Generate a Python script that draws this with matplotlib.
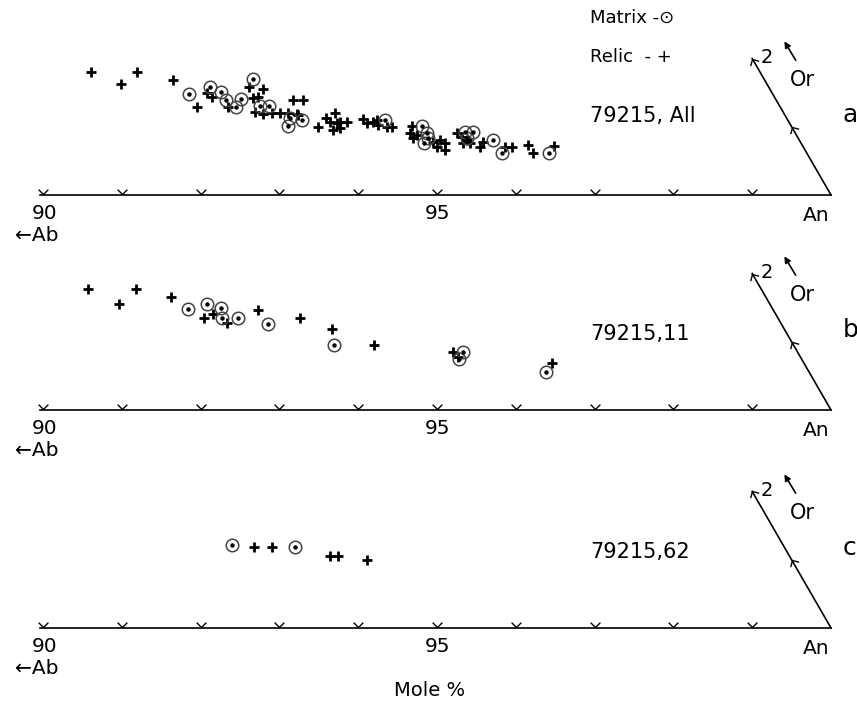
import numpy as np
import matplotlib
matplotlib.use("Agg")
import matplotlib.pyplot as plt
from matplotlib.path import Path
from matplotlib.markers import MarkerStyle
from matplotlib.transforms import Affine2D

# An and Or contents (mole %), Ab = 100 - An - Or
# panel a : 79215, All
a_relic_an = [89.71, 90.18, 90.29, 90.81, 91.33, 91.43, 91.31, 91.70, 91.82, 92.02,
              91.95, 92.01, 92.08, 92.20, 92.31, 92.41, 92.51, 92.63, 92.48, 92.61,
              92.65, 92.99, 93.02, 93.11, 93.11, 93.21, 93.23, 93.32, 93.21, 93.28,
              93.50, 93.59, 93.65, 93.74, 93.87, 93.94, 93.69, 94.18, 94.20, 94.31,
              94.28, 94.56, 94.64, 94.72, 94.77, 94.65, 94.80, 94.89, 94.98, 94.95,
              95.04, 95.20, 95.20, 95.51, 95.60, 95.79, 95.91, 96.12]
a_relic_or = [1.80, 1.62, 1.80, 1.68, 1.49, 1.43, 1.29, 1.29, 1.58, 1.55,
              1.42, 1.43, 1.21, 1.18, 1.20, 1.20, 1.20, 1.18, 1.39, 1.39,
              1.17, 0.99, 1.13, 1.20, 1.07, 1.05, 1.07, 1.07, 0.95, 0.98,
              1.11, 1.05, 1.07, 1.02, 0.99, 0.99, 1.10, 1.01, 0.91, 0.88,
              0.83, 0.77, 0.80, 0.76, 0.66, 0.70, 0.91, 0.85, 0.80, 0.76,
              0.76, 0.77, 0.70, 0.70, 0.70, 0.73, 0.61, 0.72]
a_matrix_an = [91.11, 91.33, 91.51, 91.63, 91.81, 91.81, 91.81, 92.10, 92.22, 92.57,
               92.60, 92.74, 93.79, 94.31, 94.42, 94.47, 94.45, 94.90, 95.00, 94.97,
               95.31, 95.52, 96.12]
a_matrix_or = [1.48, 1.58, 1.51, 1.39, 1.29, 1.40, 1.70, 1.30, 1.30, 1.13,
               1.01, 1.10, 1.10, 1.01, 0.91, 0.83, 0.76, 0.92, 0.92, 0.83,
               0.80, 0.61, 0.61]

# panel b : 79215,11
b_relic_an = [89.69, 90.18, 90.30, 90.80, 91.46, 91.37, 91.70, 92.00, 92.59, 93.08,
              93.72, 94.78, 94.88, 96.11]
b_relic_or = [1.77, 1.56, 1.77, 1.65, 1.40, 1.35, 1.27, 1.46, 1.35, 1.18,
              0.95, 0.85, 0.77, 0.69]
b_matrix_an = [91.10, 91.30, 91.52, 91.60, 91.80, 92.23, 93.22, 94.90, 94.90, 96.10]
b_matrix_or = [1.48, 1.56, 1.49, 1.35, 1.35, 1.26, 0.95, 0.85, 0.75, 0.56]

# panel c : 79215,62
c_relic_an = [92.09, 92.32, 93.12, 93.22, 93.62]
c_relic_or = [1.18, 1.18, 1.05, 1.05, 0.99]
c_matrix_an = [91.79, 92.61]
c_matrix_or = [1.21, 1.18]

an_ticks = list(range(90, 100))
or_ticks = [1, 2]

H = np.sqrt(3) / 2  # height of 1 % Or in ternary projection

fig = plt.figure(figsize=(8.57, 7.02), dpi=100)
ax = fig.add_axes([0, 0, 1, 1])
ax.set_xlim(89.454, 100.330)
ax.set_ylim(-8.909, 0)
ax.axis("off")

# v-shaped tick marker
vpath = Path([(-1, 1), (0, 0), (1, 1)], [Path.MOVETO, Path.LINETO, Path.LINETO])
font = "DejaVu Sans"


def tern(an, orr, base):
    an = np.asarray(an)
    orr = np.asarray(orr)
    return an + orr / 2, base + orr * H


def panel(base, relic_an, relic_or, matrix_an, matrix_or, name, letter):
    # An - Ab edge
    ax.plot([89.96, 100], [base, base], color="black", lw=1.2)
    ax.plot(an_ticks, [base + 0.01] * len(an_ticks), ls="none",
            marker=vpath, ms=7, mew=1.0, mec="black", mfc="none")
    # An - Or edge
    x_or, y_or = tern([100 - 2, 100], [2, 0], base)
    ax.plot(x_or, y_or, color="black", lw=1.2)
    tx, ty = tern([100 - o for o in or_ticks], or_ticks, base)
    vm = MarkerStyle(vpath, transform=Affine2D().rotate_deg(-150))
    ax.plot(tx, ty, ls="none", marker=vm, ms=7, mew=1.0, mec="black", mfc="none")

    rx, ry = tern(relic_an, relic_or, base)
    ax.plot(rx, ry, ls="none", marker="+", ms=6.5, mew=2.0, color="black")
    mx, my = tern(matrix_an, matrix_or, base)
    ax.plot(mx, my, ls="none", marker="o", ms=9, mew=1.1, mec="#444444", mfc="none")
    ax.plot(mx, my, ls="none", marker="o", ms=2.2, color="black")

    ax.text(90.02, base - 0.12, "90", ha="center", va="top", fontsize=14.5, family=font)
    ax.text(95.0, base - 0.12, "95", ha="center", va="top", fontsize=14.5, family=font)
    ax.text(99.81, base - 0.14, "An", ha="center", va="top", fontsize=14.5, family=font)
    ax.text(89.65, base - 0.51, "\u2190Ab", ha="left", va="center", fontsize=14.5, family=font)
    ax.text(96.94, base + (1.0 if letter == "a" else 0.96), name,
            ha="left", va="center", fontsize=15, family=font)
    ax.text(99.11, base + 1.75, "2", ha="left", va="center", fontsize=14, family=font)
    ax.text(99.48, base + 1.46, "Or", ha="left", va="center", fontsize=15, family=font)
    ax.annotate("", xy=(99.39, base + 1.98), xytext=(99.57, base + 1.68),
                arrowprops=dict(arrowstyle="-|>", color="black", lw=1.2,
                                mutation_scale=9))
    ax.text(100.15, base + 1.02, letter, ha="left", va="center", fontsize=18, family=font)


base_a = -195 / 78.8
base_b = -410 / 78.8
base_c = -628 / 78.8

panel(base_a, a_relic_an, a_relic_or, a_matrix_an, a_matrix_or, "79215, All", "a")
panel(base_b, b_relic_an, b_relic_or, b_matrix_an, b_matrix_or, "79215,11", "b")
panel(base_c, c_relic_an, c_relic_or, c_matrix_an, c_matrix_or, "79215,62", "c")

ax.text(96.94, base_a + 2.25, "Matrix -\u2299", ha="left", va="center", fontsize=13, family=font)
ax.text(96.94, base_a + 1.75, "Relic  - +", ha="left", va="center", fontsize=13, family=font)
ax.text(94.91, base_c - 0.79, "Mole %", ha="center", va="center", fontsize=14, family=font)

fig.savefig("out.png", dpi=100)
